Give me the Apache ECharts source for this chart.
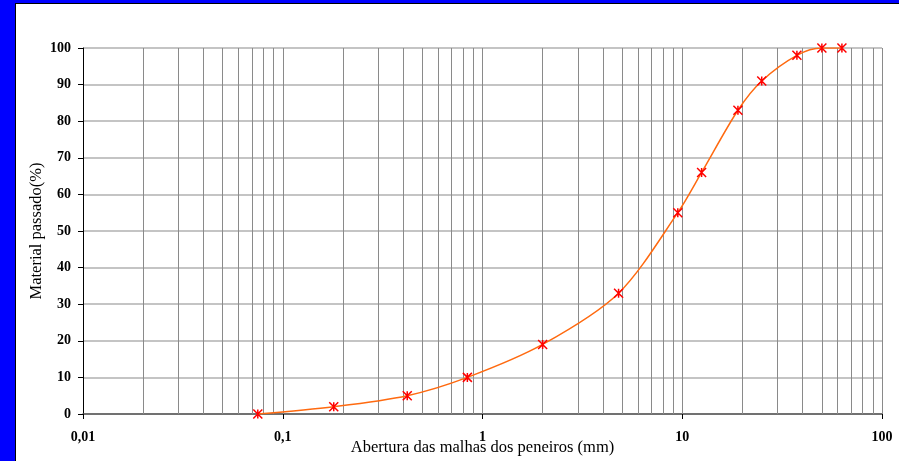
<!DOCTYPE html>
<html>
<head>
<meta charset="utf-8">
<script src="https://cdn.jsdelivr.net/npm/echarts@6/dist/echarts.min.js"></script>
<style>
html,body{margin:0;padding:0;background:#fff;}
#chart{width:899px;height:461px;}
</style>
</head>
<body>
<div id="chart"></div>
<script>
// Sieve opening (mm) and percent passing
var sieveSizes = [0.075, 0.18, 0.42, 0.84, 2.0, 4.8, 9.5, 12.5, 19, 25, 37.5, 50, 63];
var percentPassing = [0, 2, 5, 10, 19, 33, 55, 66, 83, 91, 98, 100, 100];
var xTickLabels = ['0,01', '0,1', '1', '10', '100'];
var xTickValues = [0.01, 0.1, 1, 10, 100];
var minorGridValues = [
  0.02,0.03,0.04,0.05,0.06,0.07,0.08,0.09,0.1,
  0.2,0.3,0.4,0.5,0.6,0.7,0.8,0.9,1,
  2,3,4,5,6,7,8,9,10,
  20,30,40,50,60,70,80,90,100
];

var chart = echarts.init(document.getElementById('chart'), null, {renderer:'canvas'});
var serif = '"Liberation Serif", "DejaVu Serif", serif';

var curve = sieveSizes.map(function(s, i){ return [s, percentPassing[i]]; });

chart.setOption({
  animation: false,
  backgroundColor: '#ffffff',
  graphic: [
    {type:'rect', left:0, top:0, shape:{width:899, height:4}, style:{fill:'#0000ff'}, z:100},
    {type:'rect', left:0, top:0, shape:{width:16, height:461}, style:{fill:'#0000ff'}, z:100},
    {type:'rect', left:15, top:3, shape:{width:884, height:1}, style:{fill:'#000'}, z:101},
    {type:'rect', left:15, top:3, shape:{width:1, height:458}, style:{fill:'#000'}, z:101}
  ],
  grid: {left:83, right:17, top:48, bottom:47, containLabel:false, outerBoundsMode:'none'},
  xAxis: {
    type:'log', logBase:10, min:0.01, max:100,
    name:'Abertura das malhas dos peneiros (mm)',
    nameLocation:'middle', nameGap:25, nameMoveOverlap:false,
    nameTextStyle:{fontFamily:serif, fontSize:16.5, color:'#000'},
    axisLine:{show:true, lineStyle:{color:'#555', width:1.5}},
    axisTick:{show:true, inside:false, length:5, lineStyle:{color:'#000'}},
    axisLabel:{
      fontFamily:serif, fontSize:14, fontWeight:'bold', color:'#000', margin:16,
      formatter:function(v){
        var best = 0, bd = Infinity;
        for (var i=0;i<xTickValues.length;i++){
          var d = Math.abs(Math.log10(v) - Math.log10(xTickValues[i]));
          if (d < bd){ bd = d; best = i; }
        }
        return xTickLabels[best];
      }
    },
    splitLine:{show:false}
  },
  yAxis: {
    type:'value', min:0, max:100, interval:10,
    name:'Material passado(%)',
    nameLocation:'middle', nameGap:38, nameMoveOverlap:false,
    nameTextStyle:{fontFamily:serif, fontSize:16.5, color:'#000'},
    axisLine:{show:true, lineStyle:{color:'#000', width:1}},
    axisTick:{show:true, inside:false, length:5, lineStyle:{color:'#000'}},
    axisLabel:{fontFamily:serif, fontSize:14, fontWeight:'bold', color:'#000', margin:12},
    splitLine:{show:true, lineStyle:{color:'#b0b0b0', width:1.5}}
  },
  series: [
    {
      type:'line', data:[], z:1, silent:true,
      markLine:{
        silent:true, symbol:['none','none'], animation:false,
        label:{show:false},
        lineStyle:{color:'#8a8a8a', width:1, type:'solid'},
        emphasis:{disabled:true},
        data: minorGridValues.map(function(v){ return {xAxis:v}; })
      }
    },
    {
      type:'line', data:curve, z:5,
      smooth:0.3,
      showAllSymbol:true,
      symbol:'path://M0,0L10,10M10,0L0,10M5,0L5,10',
      symbolSize:9,
      lineStyle:{color:'#ff6a10', width:1.5},
      itemStyle:{color:'none', borderColor:'#ff0000', borderWidth:1.5},
      emphasis:{disabled:true}
    }
  ]
});
</script>
</body>
</html>
